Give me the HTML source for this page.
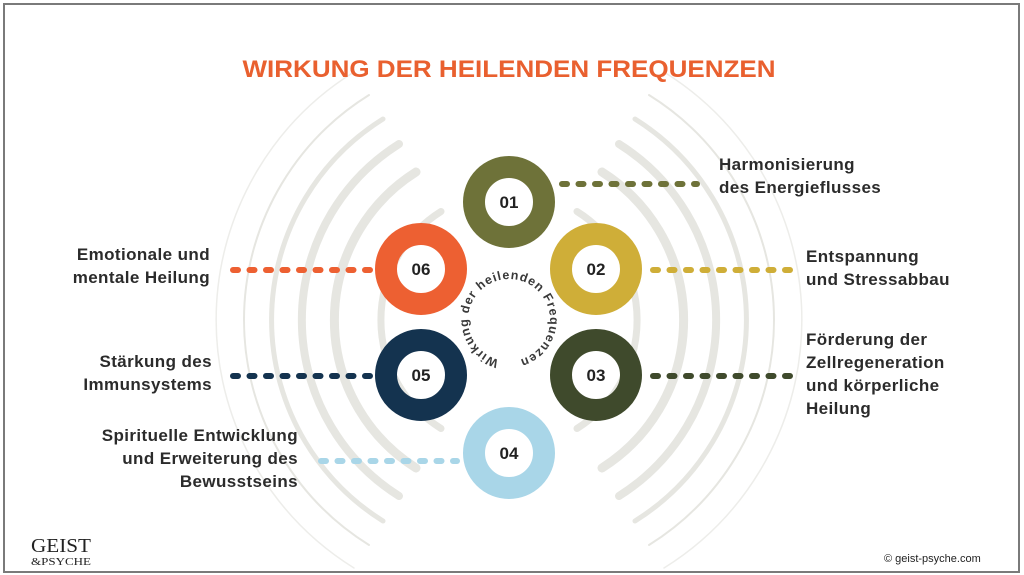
<!DOCTYPE html>
<html><head><meta charset="utf-8"><style>
html,body{margin:0;padding:0;background:#fff}
body{width:1024px;height:575px;position:relative;overflow:hidden;font-family:"Liberation Sans",sans-serif}
.frame{position:absolute;left:3px;top:3px;width:1013px;height:566px;border:2px solid #7a7a7a;}
.lbl{position:absolute;font-weight:bold;font-size:17px;line-height:23px;color:#2b2b2b;letter-spacing:0.4px;white-space:nowrap}
.r{text-align:right}
</style></head><body>
<div class="frame"></div>
<svg width="1024" height="575" style="position:absolute;left:0;top:0">
<g fill="none" stroke="#e6e6e1" stroke-linecap="round">
<path d="M 577 211.5 A 128 128 0 0 1 577 428.5" stroke-width="7"/>
<path d="M 441 211.5 A 128 128 0 0 0 441 428.5" stroke-width="7"/>
<path d="M 602 172 A 175 175 0 0 1 602 468" stroke-width="9"/>
<path d="M 416 172 A 175 175 0 0 0 416 468" stroke-width="9"/>
<path d="M 619 144 A 208 208 0 0 1 619 496" stroke-width="8"/>
<path d="M 399 144 A 208 208 0 0 0 399 496" stroke-width="8"/>
<path d="M 635 119 A 237 237 0 0 1 635 521" stroke-width="5"/>
<path d="M 383 119 A 237 237 0 0 0 383 521" stroke-width="5"/>
<path d="M 649 95 A 265 265 0 0 1 649 545" stroke-width="2"/>
<path d="M 369 95 A 265 265 0 0 0 369 545" stroke-width="2"/>
<path d="M 664 72 A 292 292 0 0 1 664 568" stroke-width="1.5" stroke="#ededea"/>
<path d="M 354 72 A 292 292 0 0 0 354 568" stroke-width="1.5" stroke="#ededea"/>
</g>
<g fill="none" stroke-width="6" stroke-linecap="round" stroke-dasharray="5 11.5">
<line x1="562" y1="184" x2="697" y2="184" stroke="#6e7239"/>
<line x1="653" y1="270" x2="790" y2="270" stroke="#cfae38"/>
<line x1="653" y1="376" x2="790" y2="376" stroke="#3f4a2c"/>
<line x1="233" y1="270" x2="370" y2="270" stroke="#ed6032"/>
<line x1="233" y1="376" x2="370" y2="376" stroke="#14334f"/>
<line x1="321" y1="461" x2="457" y2="461" stroke="#a9d6e8"/>
</g>
<g fill="none" stroke-width="22">
<circle cx="509" cy="202" r="35" stroke="#6e7239"/>
<circle cx="596" cy="269" r="35" stroke="#cfae38"/>
<circle cx="596" cy="375" r="35" stroke="#3f4a2c"/>
<circle cx="509" cy="453" r="35" stroke="#a9d6e8"/>
<circle cx="421" cy="375" r="35" stroke="#14334f"/>
<circle cx="421" cy="269" r="35" stroke="#ed6032"/>
</g>
<g font-family="Liberation Sans,sans-serif" font-weight="bold" font-size="17" fill="#222" text-anchor="middle">
<text x="509" y="208">01</text>
<text x="596" y="275">02</text>
<text x="596" y="381">03</text>
<text x="509" y="459">04</text>
<text x="421" y="381">05</text>
<text x="421" y="275">06</text>
</g>
<path id="cp" d="M 509 361 A 41 41 0 1 1 509 279 A 41 41 0 1 1 509 361" fill="none"/>
<text font-family="Liberation Sans,sans-serif" font-size="12.5" font-weight="bold" fill="#3a3a3a"><textPath href="#cp" startOffset="10" textLength="236" lengthAdjust="spacing">Wirkung der heilenden Frequenzen</textPath></text>
<text x="509" y="77" text-anchor="middle" font-family="Liberation Sans,sans-serif" font-weight="bold" font-size="24" fill="#e9602f" textLength="533" lengthAdjust="spacingAndGlyphs">WIRKUNG DER HEILENDEN FREQUENZEN</text>
<text x="31" y="552" font-family="Liberation Serif,serif" font-size="20" fill="#222" textLength="60" lengthAdjust="spacingAndGlyphs">GEIST</text>
<text x="31" y="565" font-family="Liberation Serif,serif" font-size="11" fill="#222" textLength="60" lengthAdjust="spacingAndGlyphs">&amp;PSYCHE</text>
<text x="884" y="562" font-family="Liberation Sans,sans-serif" font-size="11" fill="#222">© geist-psyche.com</text>
</svg>
<div class="lbl" style="left:719px;top:153px">Harmonisierung<br>des Energieflusses</div>
<div class="lbl" style="left:806px;top:245px">Entspannung<br>und Stressabbau</div>
<div class="lbl" style="left:806px;top:328px">Förderung der<br>Zellregeneration<br>und körperliche<br>Heilung</div>
<div class="lbl r" style="right:814px;top:243px">Emotionale und<br>mentale Heilung</div>
<div class="lbl r" style="right:812px;top:350px">Stärkung des<br>Immunsystems</div>
<div class="lbl r" style="right:726px;top:424px">Spirituelle Entwicklung<br>und Erweiterung des<br>Bewusstseins</div>
</body></html>
